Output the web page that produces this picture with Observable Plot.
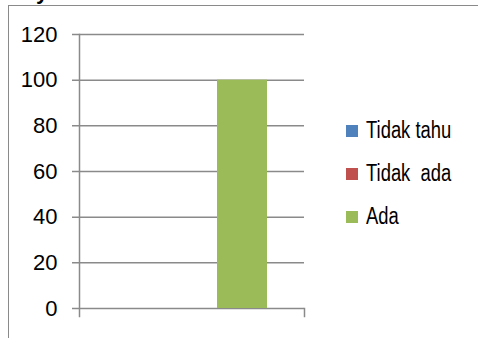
<!DOCTYPE html>
<html>
<head>
<meta charset="utf-8">
<script src="https://cdn.jsdelivr.net/npm/d3@7"></script>
<script src="https://cdn.jsdelivr.net/npm/@observablehq/plot@0.6"></script>
<style>
  html, body { margin: 0; padding: 0; background: #fff; }
  #wrap { position: relative; width: 478px; height: 338px; overflow: hidden;
          font-family: "Liberation Sans", Arial, sans-serif; }
  #border { position: absolute; left: 8px; top: 5px; right: 0; bottom: 0;
            border-top: 1px solid #8a8a8a; border-left: 1px solid #8a8a8a; }
  #title { position: absolute; left: 36px; top: -19px; font: bold 22px/22px "Liberation Sans", Arial, sans-serif; color: #000; }
  #chart { position: absolute; left: 0; top: 0; }
  #legend { position: absolute; left: 346px; top: 109px; }
  .item { display: flex; align-items: center; height: 43px; font-size: 23px; color: #000; white-space: pre; }
  .sw { width: 12px; height: 12px; margin-right: 8px; flex: none; }
  .lt { display: inline-block; transform: scaleX(0.8); transform-origin: 0 50%; }
</style>
</head>
<body>
<div id="wrap">
  <div id="border"></div>
  <div id="title">y</div>
  <div id="chart"></div>
  <div id="legend"></div>
</div>
<script>
const categories = [""];
const series = ["Tidak tahu", "Tidak  ada", "Ada"];
const values = [0, 0, 100];
const colors = ["#4F81BD", "#C0504D", "#9BBB59"];
const yTicks = [0, 20, 40, 60, 80, 100, 120];

const data = series.map((s, i) => ({category: categories[0], series: s, value: values[i]}));
const gray = "#8a8a8a";

const chart = Plot.plot({
  width: 478,
  height: 338,
  marginLeft: 79,
  marginRight: 174,
  marginTop: 34,
  marginBottom: 30,
  style: {fontFamily: '"Liberation Sans", Arial, sans-serif', fontSize: "22px", color: "#000", background: "transparent", overflow: "visible"},
  x: {domain: series, paddingInner: 0, paddingOuter: 0.75, axis: null},
  y: {domain: [0, 120], ticks: yTicks},
  color: {domain: series, range: colors},
  marks: [
    Plot.ruleY(yTicks, {stroke: gray, strokeWidth: 1.5, insetLeft: -7}),
    Plot.frame({anchor: "left", stroke: gray, strokeWidth: 1.5, insetBottom: -8}),
    Plot.frame({anchor: "right", stroke: gray, strokeWidth: 1.5, insetTop: 274, insetBottom: -8}),
    Plot.barY(data, {x: "series", y: "value", fill: "series"}),
    Plot.axisY(yTicks, {tickSize: 0, tickPadding: 22, fontSize: 22, label: null, ariaLabel: "y-axis tick label"})
  ]
});
// condense tick labels horizontally (narrow font look), keeping right edge anchored
chart.querySelectorAll('g[aria-label="y-axis tick label"] text').forEach(t => {
  const tr = t.getAttribute("transform") || "";
  t.setAttribute("transform", tr + " scale(0.8,1)");
});
document.getElementById("chart").appendChild(chart);

const legend = document.getElementById("legend");
series.forEach((s, i) => {
  const item = document.createElement("div");
  item.className = "item";
  const sw = document.createElement("span");
  sw.className = "sw";
  sw.style.background = colors[i];
  const t = document.createElement("span");
  t.className = "lt";
  t.textContent = s;
  item.appendChild(sw);
  item.appendChild(t);
  legend.appendChild(item);
});
</script>
</body>
</html>
